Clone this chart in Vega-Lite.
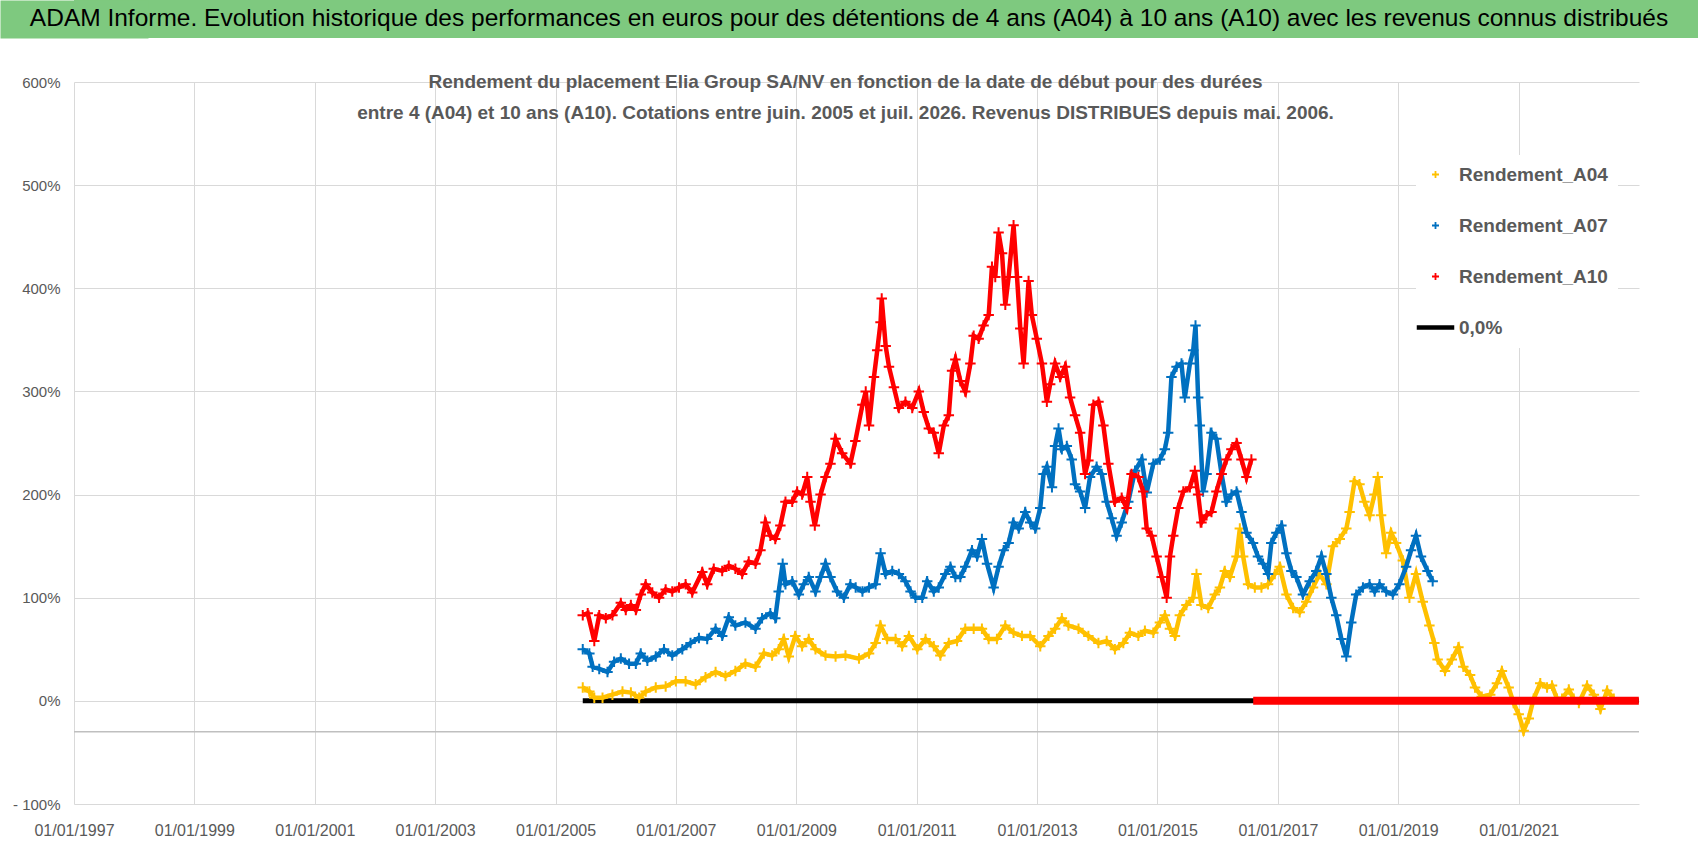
{
  "$schema": "https://vega.github.io/schema/vega-lite/v6.json",
  "background": "white",
  "padding": 0,
  "columns": 1,
  "spacing": 35,
  "config": {"font": "Liberation Sans", "view": {"stroke": null}},
  "datasets": {
    "A04": [
      {"date": "2005-06-15", "rendement": 0.13}, {"date": "2005-07-25", "rendement": 0.09}, {"date": "2005-08-24", "rendement": 0.03},
      {"date": "2005-10-13", "rendement": 0.03}, {"date": "2005-12-12", "rendement": 0.06}, {"date": "2006-02-11", "rendement": 0.09},
      {"date": "2006-04-03", "rendement": 0.08}, {"date": "2006-05-23", "rendement": 0.03}, {"date": "2006-07-02", "rendement": 0.09},
      {"date": "2006-09-01", "rendement": 0.13}, {"date": "2006-10-31", "rendement": 0.14}, {"date": "2007-01-01", "rendement": 0.19},
      {"date": "2007-03-01", "rendement": 0.19}, {"date": "2007-05-01", "rendement": 0.16}, {"date": "2007-06-30", "rendement": 0.23},
      {"date": "2007-08-30", "rendement": 0.28}, {"date": "2007-10-29", "rendement": 0.24}, {"date": "2007-12-28", "rendement": 0.29},
      {"date": "2008-02-27", "rendement": 0.36}, {"date": "2008-04-28", "rendement": 0.33}, {"date": "2008-06-18", "rendement": 0.46},
      {"date": "2008-08-07", "rendement": 0.44}, {"date": "2008-09-16", "rendement": 0.50}, {"date": "2008-10-16", "rendement": 0.60},
      {"date": "2008-11-16", "rendement": 0.43}, {"date": "2008-12-26", "rendement": 0.63}, {"date": "2009-02-05", "rendement": 0.53},
      {"date": "2009-03-17", "rendement": 0.60}, {"date": "2009-04-27", "rendement": 0.50}, {"date": "2009-06-27", "rendement": 0.44},
      {"date": "2009-08-27", "rendement": 0.43}, {"date": "2009-10-26", "rendement": 0.44}, {"date": "2010-01-16", "rendement": 0.41},
      {"date": "2010-03-18", "rendement": 0.46}, {"date": "2010-04-27", "rendement": 0.56}, {"date": "2010-05-27", "rendement": 0.73},
      {"date": "2010-07-06", "rendement": 0.60}, {"date": "2010-08-26", "rendement": 0.60}, {"date": "2010-10-05", "rendement": 0.53},
      {"date": "2010-11-15", "rendement": 0.63}, {"date": "2011-01-05", "rendement": 0.50}, {"date": "2011-02-24", "rendement": 0.60},
      {"date": "2011-04-15", "rendement": 0.53}, {"date": "2011-05-25", "rendement": 0.44}, {"date": "2011-07-15", "rendement": 0.56},
      {"date": "2011-09-03", "rendement": 0.58}, {"date": "2011-10-23", "rendement": 0.70}, {"date": "2011-12-13", "rendement": 0.70},
      {"date": "2012-02-01", "rendement": 0.70}, {"date": "2012-03-13", "rendement": 0.60}, {"date": "2012-05-02", "rendement": 0.60},
      {"date": "2012-06-22", "rendement": 0.73}, {"date": "2012-08-11", "rendement": 0.66}, {"date": "2012-10-01", "rendement": 0.63},
      {"date": "2012-11-20", "rendement": 0.63}, {"date": "2013-01-20", "rendement": 0.53}, {"date": "2013-03-11", "rendement": 0.63},
      {"date": "2013-04-20", "rendement": 0.70}, {"date": "2013-05-31", "rendement": 0.80}, {"date": "2013-07-10", "rendement": 0.73},
      {"date": "2013-09-09", "rendement": 0.70}, {"date": "2013-11-08", "rendement": 0.63}, {"date": "2014-01-08", "rendement": 0.56},
      {"date": "2014-02-27", "rendement": 0.58}, {"date": "2014-04-18", "rendement": 0.50}, {"date": "2014-06-08", "rendement": 0.56},
      {"date": "2014-07-18", "rendement": 0.66}, {"date": "2014-09-07", "rendement": 0.63}, {"date": "2014-10-17", "rendement": 0.68},
      {"date": "2014-12-07", "rendement": 0.66}, {"date": "2015-01-16", "rendement": 0.76}, {"date": "2015-02-15", "rendement": 0.83},
      {"date": "2015-03-18", "rendement": 0.70}, {"date": "2015-04-17", "rendement": 0.63}, {"date": "2015-05-17", "rendement": 0.83},
      {"date": "2015-06-26", "rendement": 0.93}, {"date": "2015-08-06", "rendement": 1.00}, {"date": "2015-08-26", "rendement": 1.23},
      {"date": "2015-09-25", "rendement": 0.93}, {"date": "2015-11-05", "rendement": 0.90}, {"date": "2015-12-15", "rendement": 1.03},
      {"date": "2016-01-15", "rendement": 1.10}, {"date": "2016-02-14", "rendement": 1.26}, {"date": "2016-03-15", "rendement": 1.20},
      {"date": "2016-04-25", "rendement": 1.40}, {"date": "2016-05-15", "rendement": 1.67}, {"date": "2016-06-04", "rendement": 1.40},
      {"date": "2016-07-04", "rendement": 1.13}, {"date": "2016-08-14", "rendement": 1.10}, {"date": "2016-09-23", "rendement": 1.10},
      {"date": "2016-11-02", "rendement": 1.13}, {"date": "2016-12-13", "rendement": 1.23}, {"date": "2017-01-12", "rendement": 1.30},
      {"date": "2017-02-22", "rendement": 1.03}, {"date": "2017-04-03", "rendement": 0.90}, {"date": "2017-05-13", "rendement": 0.86},
      {"date": "2017-06-22", "rendement": 0.96}, {"date": "2017-08-02", "rendement": 1.10}, {"date": "2017-09-11", "rendement": 1.23},
      {"date": "2017-10-22", "rendement": 1.13}, {"date": "2017-12-01", "rendement": 1.50}, {"date": "2018-01-11", "rendement": 1.57},
      {"date": "2018-02-20", "rendement": 1.67}, {"date": "2018-03-12", "rendement": 1.83}, {"date": "2018-04-11", "rendement": 2.13},
      {"date": "2018-05-11", "rendement": 2.10}, {"date": "2018-06-10", "rendement": 1.93}, {"date": "2018-07-11", "rendement": 1.80},
      {"date": "2018-08-10", "rendement": 2.00}, {"date": "2018-08-30", "rendement": 2.17}, {"date": "2018-09-19", "rendement": 1.80},
      {"date": "2018-10-20", "rendement": 1.43}, {"date": "2018-11-19", "rendement": 1.63}, {"date": "2018-12-19", "rendement": 1.53},
      {"date": "2019-01-29", "rendement": 1.36}, {"date": "2019-03-10", "rendement": 1.00}, {"date": "2019-04-19", "rendement": 1.23},
      {"date": "2019-05-30", "rendement": 0.96}, {"date": "2019-07-09", "rendement": 0.73}, {"date": "2019-08-08", "rendement": 0.56},
      {"date": "2019-08-28", "rendement": 0.40}, {"date": "2019-10-12", "rendement": 0.29}, {"date": "2019-11-22", "rendement": 0.40},
      {"date": "2020-01-01", "rendement": 0.52}, {"date": "2020-01-31", "rendement": 0.33}, {"date": "2020-03-12", "rendement": 0.25},
      {"date": "2020-04-11", "rendement": 0.13}, {"date": "2020-05-22", "rendement": 0.04}, {"date": "2020-07-12", "rendement": 0.06},
      {"date": "2020-08-22", "rendement": 0.17}, {"date": "2020-09-21", "rendement": 0.29}, {"date": "2020-11-01", "rendement": 0.13},
      {"date": "2020-12-01", "rendement": -0.02}, {"date": "2021-01-01", "rendement": -0.13}, {"date": "2021-01-31", "rendement": -0.29},
      {"date": "2021-03-03", "rendement": -0.17}, {"date": "2021-04-02", "rendement": 0.02}, {"date": "2021-05-12", "rendement": 0.17},
      {"date": "2021-06-22", "rendement": 0.13}, {"date": "2021-07-22", "rendement": 0.15}, {"date": "2021-08-21", "rendement": 0.02},
      {"date": "2021-09-21", "rendement": 0.02}, {"date": "2021-11-01", "rendement": 0.11}, {"date": "2021-12-01", "rendement": 0.02},
      {"date": "2022-01-01", "rendement": -0.02}, {"date": "2022-02-20", "rendement": 0.15}, {"date": "2022-04-02", "rendement": 0.06},
      {"date": "2022-05-12", "rendement": -0.08}, {"date": "2022-06-22", "rendement": 0.10}, {"date": "2022-08-01", "rendement": 0.02}
    ],
    "A07": [
      {"date": "2005-06-15", "rendement": 0.50}, {"date": "2005-07-25", "rendement": 0.46}, {"date": "2005-08-14", "rendement": 0.33},
      {"date": "2005-09-23", "rendement": 0.31}, {"date": "2005-11-12", "rendement": 0.28}, {"date": "2005-12-22", "rendement": 0.38},
      {"date": "2006-02-01", "rendement": 0.41}, {"date": "2006-03-23", "rendement": 0.36}, {"date": "2006-05-03", "rendement": 0.36},
      {"date": "2006-06-02", "rendement": 0.46}, {"date": "2006-07-12", "rendement": 0.39}, {"date": "2006-09-01", "rendement": 0.43},
      {"date": "2006-10-21", "rendement": 0.50}, {"date": "2006-12-10", "rendement": 0.44}, {"date": "2007-02-09", "rendement": 0.50},
      {"date": "2007-03-31", "rendement": 0.56}, {"date": "2007-05-21", "rendement": 0.61}, {"date": "2007-07-10", "rendement": 0.60},
      {"date": "2007-08-30", "rendement": 0.70}, {"date": "2007-10-09", "rendement": 0.63}, {"date": "2007-11-18", "rendement": 0.81},
      {"date": "2007-12-28", "rendement": 0.73}, {"date": "2008-02-27", "rendement": 0.76}, {"date": "2008-04-28", "rendement": 0.70},
      {"date": "2008-06-07", "rendement": 0.80}, {"date": "2008-07-27", "rendement": 0.85}, {"date": "2008-08-26", "rendement": 0.80},
      {"date": "2008-09-16", "rendement": 1.06}, {"date": "2008-10-10", "rendement": 1.33}, {"date": "2008-10-27", "rendement": 1.13},
      {"date": "2008-12-07", "rendement": 1.16}, {"date": "2009-01-16", "rendement": 1.03}, {"date": "2009-02-15", "rendement": 1.13},
      {"date": "2009-03-17", "rendement": 1.20}, {"date": "2009-04-27", "rendement": 1.06}, {"date": "2009-05-28", "rendement": 1.20},
      {"date": "2009-06-27", "rendement": 1.33}, {"date": "2009-07-27", "rendement": 1.20}, {"date": "2009-09-05", "rendement": 1.06},
      {"date": "2009-10-16", "rendement": 1.00}, {"date": "2009-11-25", "rendement": 1.13}, {"date": "2009-12-27", "rendement": 1.10},
      {"date": "2010-02-06", "rendement": 1.06}, {"date": "2010-03-18", "rendement": 1.10}, {"date": "2010-04-27", "rendement": 1.13},
      {"date": "2010-05-27", "rendement": 1.43}, {"date": "2010-06-27", "rendement": 1.23}, {"date": "2010-08-06", "rendement": 1.26},
      {"date": "2010-09-15", "rendement": 1.23}, {"date": "2010-10-25", "rendement": 1.16}, {"date": "2010-11-25", "rendement": 1.06},
      {"date": "2010-12-25", "rendement": 1.00}, {"date": "2011-02-04", "rendement": 1.00}, {"date": "2011-03-06", "rendement": 1.16},
      {"date": "2011-04-15", "rendement": 1.06}, {"date": "2011-05-15", "rendement": 1.10}, {"date": "2011-06-24", "rendement": 1.23},
      {"date": "2011-07-25", "rendement": 1.30}, {"date": "2011-08-24", "rendement": 1.20}, {"date": "2011-09-23", "rendement": 1.20},
      {"date": "2011-10-23", "rendement": 1.30}, {"date": "2011-12-03", "rendement": 1.46}, {"date": "2012-01-02", "rendement": 1.40},
      {"date": "2012-02-01", "rendement": 1.57}, {"date": "2012-03-03", "rendement": 1.33}, {"date": "2012-04-12", "rendement": 1.10},
      {"date": "2012-05-12", "rendement": 1.30}, {"date": "2012-06-12", "rendement": 1.46}, {"date": "2012-07-12", "rendement": 1.53},
      {"date": "2012-08-11", "rendement": 1.73}, {"date": "2012-09-11", "rendement": 1.67}, {"date": "2012-10-21", "rendement": 1.83},
      {"date": "2012-11-20", "rendement": 1.73}, {"date": "2012-12-20", "rendement": 1.67}, {"date": "2013-01-20", "rendement": 1.87},
      {"date": "2013-02-09", "rendement": 2.20}, {"date": "2013-03-01", "rendement": 2.27}, {"date": "2013-04-01", "rendement": 2.07},
      {"date": "2013-04-20", "rendement": 2.47}, {"date": "2013-05-11", "rendement": 2.64}, {"date": "2013-05-31", "rendement": 2.44},
      {"date": "2013-06-30", "rendement": 2.47}, {"date": "2013-07-30", "rendement": 2.34}, {"date": "2013-08-19", "rendement": 2.10},
      {"date": "2013-09-19", "rendement": 2.03}, {"date": "2013-10-19", "rendement": 1.87}, {"date": "2013-11-18", "rendement": 2.17},
      {"date": "2013-12-28", "rendement": 2.27}, {"date": "2014-01-28", "rendement": 2.20}, {"date": "2014-02-27", "rendement": 1.93},
      {"date": "2014-03-29", "rendement": 1.77}, {"date": "2014-04-28", "rendement": 1.60}, {"date": "2014-05-29", "rendement": 1.73},
      {"date": "2014-07-08", "rendement": 1.93}, {"date": "2014-08-18", "rendement": 2.23}, {"date": "2014-09-27", "rendement": 2.34},
      {"date": "2014-10-28", "rendement": 2.02}, {"date": "2014-12-07", "rendement": 2.30}, {"date": "2015-01-16", "rendement": 2.34},
      {"date": "2015-02-15", "rendement": 2.44}, {"date": "2015-03-07", "rendement": 2.60}, {"date": "2015-03-27", "rendement": 3.14},
      {"date": "2015-04-27", "rendement": 3.24}, {"date": "2015-05-27", "rendement": 3.27}, {"date": "2015-06-16", "rendement": 2.94},
      {"date": "2015-07-17", "rendement": 3.27}, {"date": "2015-08-06", "rendement": 3.40}, {"date": "2015-08-20", "rendement": 3.64},
      {"date": "2015-09-05", "rendement": 2.94}, {"date": "2015-09-15", "rendement": 2.67}, {"date": "2015-10-05", "rendement": 2.03},
      {"date": "2015-10-26", "rendement": 2.20}, {"date": "2015-11-25", "rendement": 2.60}, {"date": "2015-12-25", "rendement": 2.54},
      {"date": "2016-01-25", "rendement": 2.20}, {"date": "2016-02-24", "rendement": 1.93}, {"date": "2016-03-25", "rendement": 2.00},
      {"date": "2016-04-25", "rendement": 2.03}, {"date": "2016-05-25", "rendement": 1.83}, {"date": "2016-06-24", "rendement": 1.63},
      {"date": "2016-08-03", "rendement": 1.53}, {"date": "2016-09-02", "rendement": 1.40}, {"date": "2016-10-03", "rendement": 1.33},
      {"date": "2016-11-02", "rendement": 1.23}, {"date": "2016-11-22", "rendement": 1.53}, {"date": "2016-12-23", "rendement": 1.63},
      {"date": "2017-01-22", "rendement": 1.70}, {"date": "2017-02-22", "rendement": 1.43}, {"date": "2017-03-24", "rendement": 1.26},
      {"date": "2017-04-23", "rendement": 1.20}, {"date": "2017-06-02", "rendement": 1.03}, {"date": "2017-07-13", "rendement": 1.16},
      {"date": "2017-08-22", "rendement": 1.26}, {"date": "2017-09-22", "rendement": 1.40}, {"date": "2017-10-22", "rendement": 1.23},
      {"date": "2017-11-21", "rendement": 1.00}, {"date": "2017-12-21", "rendement": 0.83}, {"date": "2018-01-21", "rendement": 0.60},
      {"date": "2018-02-20", "rendement": 0.43}, {"date": "2018-03-22", "rendement": 0.76}, {"date": "2018-04-21", "rendement": 1.03},
      {"date": "2018-06-01", "rendement": 1.10}, {"date": "2018-07-11", "rendement": 1.13}, {"date": "2018-08-11", "rendement": 1.06},
      {"date": "2018-09-10", "rendement": 1.13}, {"date": "2018-10-20", "rendement": 1.06}, {"date": "2018-11-29", "rendement": 1.03},
      {"date": "2019-01-08", "rendement": 1.13}, {"date": "2019-02-18", "rendement": 1.30}, {"date": "2019-03-20", "rendement": 1.46},
      {"date": "2019-04-19", "rendement": 1.60}, {"date": "2019-05-19", "rendement": 1.40}, {"date": "2019-06-28", "rendement": 1.26},
      {"date": "2019-07-29", "rendement": 1.16}
    ],
    "A10": [
      {"date": "2005-06-15", "rendement": 0.83}, {"date": "2005-07-15", "rendement": 0.85}, {"date": "2005-08-24", "rendement": 0.58},
      {"date": "2005-09-23", "rendement": 0.83}, {"date": "2005-11-02", "rendement": 0.80}, {"date": "2005-12-12", "rendement": 0.83},
      {"date": "2006-02-01", "rendement": 0.95}, {"date": "2006-03-03", "rendement": 0.88}, {"date": "2006-04-03", "rendement": 0.93},
      {"date": "2006-05-03", "rendement": 0.88}, {"date": "2006-06-02", "rendement": 1.03}, {"date": "2006-07-02", "rendement": 1.13},
      {"date": "2006-08-11", "rendement": 1.05}, {"date": "2006-09-21", "rendement": 1.00}, {"date": "2006-10-31", "rendement": 1.08},
      {"date": "2006-12-10", "rendement": 1.06}, {"date": "2007-01-20", "rendement": 1.10}, {"date": "2007-03-01", "rendement": 1.13},
      {"date": "2007-04-10", "rendement": 1.05}, {"date": "2007-06-10", "rendement": 1.25}, {"date": "2007-07-10", "rendement": 1.13},
      {"date": "2007-08-19", "rendement": 1.28}, {"date": "2007-10-09", "rendement": 1.26}, {"date": "2007-11-18", "rendement": 1.31},
      {"date": "2007-12-28", "rendement": 1.28}, {"date": "2008-02-07", "rendement": 1.23}, {"date": "2008-03-18", "rendement": 1.35},
      {"date": "2008-04-28", "rendement": 1.33}, {"date": "2008-05-28", "rendement": 1.46}, {"date": "2008-06-28", "rendement": 1.73},
      {"date": "2008-07-27", "rendement": 1.60}, {"date": "2008-08-26", "rendement": 1.57}, {"date": "2008-09-26", "rendement": 1.70},
      {"date": "2008-10-27", "rendement": 1.93}, {"date": "2008-12-07", "rendement": 1.93}, {"date": "2009-01-06", "rendement": 2.03},
      {"date": "2009-02-05", "rendement": 2.00}, {"date": "2009-03-08", "rendement": 2.17}, {"date": "2009-03-28", "rendement": 1.93},
      {"date": "2009-04-23", "rendement": 1.70}, {"date": "2009-05-28", "rendement": 2.00}, {"date": "2009-06-27", "rendement": 2.17},
      {"date": "2009-07-27", "rendement": 2.30}, {"date": "2009-08-27", "rendement": 2.54}, {"date": "2009-10-06", "rendement": 2.40},
      {"date": "2009-11-25", "rendement": 2.30}, {"date": "2009-12-25", "rendement": 2.52}, {"date": "2010-02-06", "rendement": 2.87},
      {"date": "2010-02-26", "rendement": 3.00}, {"date": "2010-03-18", "rendement": 2.67}, {"date": "2010-04-17", "rendement": 3.14},
      {"date": "2010-05-07", "rendement": 3.40}, {"date": "2010-05-27", "rendement": 3.67}, {"date": "2010-06-03", "rendement": 3.90},
      {"date": "2010-06-27", "rendement": 3.44}, {"date": "2010-07-17", "rendement": 3.24}, {"date": "2010-08-16", "rendement": 3.04},
      {"date": "2010-09-15", "rendement": 2.84}, {"date": "2010-10-25", "rendement": 2.90}, {"date": "2010-12-05", "rendement": 2.84},
      {"date": "2011-01-14", "rendement": 3.00}, {"date": "2011-02-13", "rendement": 2.80}, {"date": "2011-03-16", "rendement": 2.64},
      {"date": "2011-04-15", "rendement": 2.60}, {"date": "2011-05-15", "rendement": 2.40}, {"date": "2011-06-15", "rendement": 2.67},
      {"date": "2011-07-15", "rendement": 2.77}, {"date": "2011-08-04", "rendement": 3.20}, {"date": "2011-08-24", "rendement": 3.31},
      {"date": "2011-09-23", "rendement": 3.10}, {"date": "2011-10-23", "rendement": 3.00}, {"date": "2011-11-23", "rendement": 3.27},
      {"date": "2011-12-13", "rendement": 3.54}, {"date": "2012-01-12", "rendement": 3.51}, {"date": "2012-02-11", "rendement": 3.64},
      {"date": "2012-03-13", "rendement": 3.74}, {"date": "2012-04-02", "rendement": 4.21}, {"date": "2012-04-22", "rendement": 4.11},
      {"date": "2012-05-12", "rendement": 4.54}, {"date": "2012-06-02", "rendement": 4.34}, {"date": "2012-06-22", "rendement": 3.84},
      {"date": "2012-07-12", "rendement": 4.11}, {"date": "2012-08-11", "rendement": 4.61}, {"date": "2012-09-01", "rendement": 4.11},
      {"date": "2012-09-21", "rendement": 3.61}, {"date": "2012-10-11", "rendement": 3.27}, {"date": "2012-11-10", "rendement": 4.07},
      {"date": "2012-11-30", "rendement": 3.74}, {"date": "2012-12-30", "rendement": 3.51}, {"date": "2013-01-30", "rendement": 3.27},
      {"date": "2013-03-01", "rendement": 2.90}, {"date": "2013-03-21", "rendement": 3.07}, {"date": "2013-04-20", "rendement": 3.27},
      {"date": "2013-05-21", "rendement": 3.14}, {"date": "2013-06-20", "rendement": 3.24}, {"date": "2013-07-20", "rendement": 2.94},
      {"date": "2013-08-19", "rendement": 2.77}, {"date": "2013-09-19", "rendement": 2.60}, {"date": "2013-10-19", "rendement": 2.20},
      {"date": "2013-11-08", "rendement": 2.33}, {"date": "2013-12-08", "rendement": 2.87}, {"date": "2014-01-08", "rendement": 2.90},
      {"date": "2014-02-07", "rendement": 2.67}, {"date": "2014-03-09", "rendement": 2.30}, {"date": "2014-04-18", "rendement": 1.93},
      {"date": "2014-05-29", "rendement": 1.97}, {"date": "2014-06-28", "rendement": 1.87}, {"date": "2014-07-28", "rendement": 2.20},
      {"date": "2014-09-07", "rendement": 2.17}, {"date": "2014-10-07", "rendement": 2.03}, {"date": "2014-10-28", "rendement": 1.67},
      {"date": "2014-11-27", "rendement": 1.60}, {"date": "2014-12-27", "rendement": 1.40}, {"date": "2015-01-27", "rendement": 1.20},
      {"date": "2015-02-26", "rendement": 1.00}, {"date": "2015-03-18", "rendement": 1.40}, {"date": "2015-04-07", "rendement": 1.60},
      {"date": "2015-05-07", "rendement": 1.87}, {"date": "2015-06-07", "rendement": 2.03}, {"date": "2015-07-17", "rendement": 2.07},
      {"date": "2015-08-16", "rendement": 2.23}, {"date": "2015-09-05", "rendement": 2.00}, {"date": "2015-09-25", "rendement": 1.73},
      {"date": "2015-10-26", "rendement": 1.80}, {"date": "2015-11-25", "rendement": 1.83}, {"date": "2015-12-25", "rendement": 2.03},
      {"date": "2016-01-25", "rendement": 2.20}, {"date": "2016-02-24", "rendement": 2.34}, {"date": "2016-03-25", "rendement": 2.44},
      {"date": "2016-04-25", "rendement": 2.50}, {"date": "2016-05-25", "rendement": 2.34}, {"date": "2016-06-24", "rendement": 2.17},
      {"date": "2016-07-24", "rendement": 2.34}
    ],
    "zero": [
      {"date": "2005-06-15", "rendement": 0}, {"date": "2022-12-31", "rendement": 0}
    ],
    "A10_nul": [
      {"date": "2016-08-04", "rendement": 0}, {"date": "2022-12-31", "rendement": 0}
    ]
  },
  "concat": [
    {
      "width": 1624,
      "height": 38,
      "view": {"fill": "#7EC97F", "stroke": null},
      "data": {"values": [{"titre": "ADAM Informe. Evolution historique des performances en euros pour des détentions de 4 ans (A04) à 10 ans (A10) avec les revenus connus distribués"}]},
      "mark": {"type": "text", "font": "Liberation Sans", "fontSize": 24.5, "color": "#000000", "baseline": "middle", "dx": -37},
      "encoding": {
        "text": {"field": "titre", "type": "nominal"},
        "y": {
          "datum": 0, "type": "quantitative",
          "scale": {"domain": [-1, 1]},
          "axis": {"title": null, "labels": false, "ticks": false, "grid": false, "domain": true, "domainColor": "#7EC97F", "domainWidth": 148, "minExtent": 74, "maxExtent": 74}
        }
      }
    },
    {
      "width": 1565,
      "height": 722,
      "title": {
        "text": [
          "Rendement du placement Elia Group SA/NV en fonction de la date de début pour des durées",
          "entre 4 (A04) et 10 ans (A10). Cotations entre juin. 2005 et juil. 2026. Revenus DISTRIBUES depuis mai. 2006."
        ],
        "frame": "group",
        "anchor": "middle",
        "dx": -11,
        "offset": -67,
        "baseline": "bottom",
        "font": "Liberation Sans",
        "fontSize": 19,
        "fontWeight": "bold",
        "color": "#595959",
        "lineHeight": 31
      },
      "layer": [
        {
          "data": {"values": [{}]},
          "mark": {"type": "rule", "color": "#BFBFBF", "strokeWidth": 1.5},
          "encoding": {"y": {"datum": -0.3, "type": "quantitative"}}
        },
        {
          "data": {"name": "zero"},
          "mark": {"type": "line", "strokeWidth": 5, "strokeCap": "butt"},
          "encoding": {
            "x": {
              "field": "date", "type": "temporal", "title": null,
              "scale": {"domain": [{"year": 1997, "month": 1, "date": 1}, {"year": 2023, "month": 1, "date": 1}]},
              "axis": {
                "values": [
                  {"year": 1997, "month": 1, "date": 1}, {"year": 1999, "month": 1, "date": 1}, {"year": 2001, "month": 1, "date": 1},
                  {"year": 2003, "month": 1, "date": 1}, {"year": 2005, "month": 1, "date": 1}, {"year": 2007, "month": 1, "date": 1},
                  {"year": 2009, "month": 1, "date": 1}, {"year": 2011, "month": 1, "date": 1}, {"year": 2013, "month": 1, "date": 1},
                  {"year": 2015, "month": 1, "date": 1}, {"year": 2017, "month": 1, "date": 1}, {"year": 2019, "month": 1, "date": 1},
                  {"year": 2021, "month": 1, "date": 1}
                ],
                "format": "%d/%m/%Y",
                "labelFont": "Liberation Sans",
                "labelFontSize": 16,
                "labelColor": "#595959",
                "labelPadding": 18,
                "labelOverlap": false,
                "labelFlush": false,
                "ticks": false,
                "tickSize": 0,
                "domain": false,
                "grid": true,
                "gridColor": "#D9D9D9",
                "gridWidth": 1
              }
            },
            "y": {
              "field": "rendement", "type": "quantitative", "title": null,
              "scale": {"domain": [-1, 6], "nice": false},
              "axis": {
                "values": [-1, 0, 1, 2, 3, 4, 5, 6],
                "labelExpr": "datum.value < 0 ? '- ' + format(-datum.value, '.0%') : format(datum.value, '.0%')",
                "labelFont": "Liberation Sans",
                "labelFontSize": 15,
                "labelColor": "#595959",
                "labelPadding": 14,
                "ticks": false,
                "tickSize": 0,
                "domain": false,
                "grid": true,
                "gridColor": "#D9D9D9",
                "gridWidth": 1,
                "minExtent": 74,
                "maxExtent": 74
              }
            },
            "color": {
              "datum": "0,0%",
              "type": "nominal",
              "scale": {
                "domain": ["Rendement_A04", "Rendement_A07", "Rendement_A10", "0,0%"],
                "range": ["#FFC000", "#0070C0", "#FF0000", "#000000"]
              },
              "legend": {
                "title": null,
                "orient": "none",
                "legendX": 1342,
                "legendY": 155,
                "direction": "vertical",
                "fillColor": "white",
                "padding": 10,
                "rowPadding": 31,
                "labelFont": "Liberation Sans",
                "labelFontSize": 19,
                "labelFontWeight": "bold",
                "labelColor": "#595959",
                "labelOffset": 14,
                "symbolSize": 225,
                "encode": {
                  "symbols": {
                    "update": {
                      "shape": {"signal": "datum.value === '0,0%' ? 'M-2.5,0H2.5' : 'M-1,0H1M0,-1V1'"},
                      "size": {"signal": "datum.value === '0,0%' ? 225 : 49"},
                      "strokeWidth": {"signal": "datum.value === '0,0%' ? 4.5 : 1.8"},
                      "fill": {"value": "transparent"},
                      "opacity": {"value": 1}
                    }
                  }
                }
              }
            }
          }
        },
        {
          "data": {"name": "A04"},
          "mark": {"type": "line", "strokeWidth": 4.5, "point": {"shape": "M-1,0H1M0,-1V1", "filled": false, "size": 110, "strokeWidth": 2}},
          "encoding": {
            "x": {"field": "date", "type": "temporal"},
            "y": {"field": "rendement", "type": "quantitative"},
            "color": {"datum": "Rendement_A04", "type": "nominal"}
          }
        },
        {
          "data": {"name": "A07"},
          "mark": {"type": "line", "strokeWidth": 4.5, "point": {"shape": "M-1,0H1M0,-1V1", "filled": false, "size": 110, "strokeWidth": 2}},
          "encoding": {
            "x": {"field": "date", "type": "temporal"},
            "y": {"field": "rendement", "type": "quantitative"},
            "color": {"datum": "Rendement_A07", "type": "nominal"}
          }
        },
        {
          "data": {"name": "A10"},
          "mark": {"type": "line", "strokeWidth": 4.5, "point": {"shape": "M-1,0H1M0,-1V1", "filled": false, "size": 110, "strokeWidth": 2}},
          "encoding": {
            "x": {"field": "date", "type": "temporal"},
            "y": {"field": "rendement", "type": "quantitative"},
            "color": {"datum": "Rendement_A10", "type": "nominal"}
          }
        },
        {
          "data": {"name": "A10_nul"},
          "mark": {"type": "line", "strokeWidth": 8, "color": "#FF0000", "strokeCap": "butt"},
          "encoding": {
            "x": {"field": "date", "type": "temporal"},
            "y": {"field": "rendement", "type": "quantitative"}
          }
        }
      ]
    }
  ]
}
